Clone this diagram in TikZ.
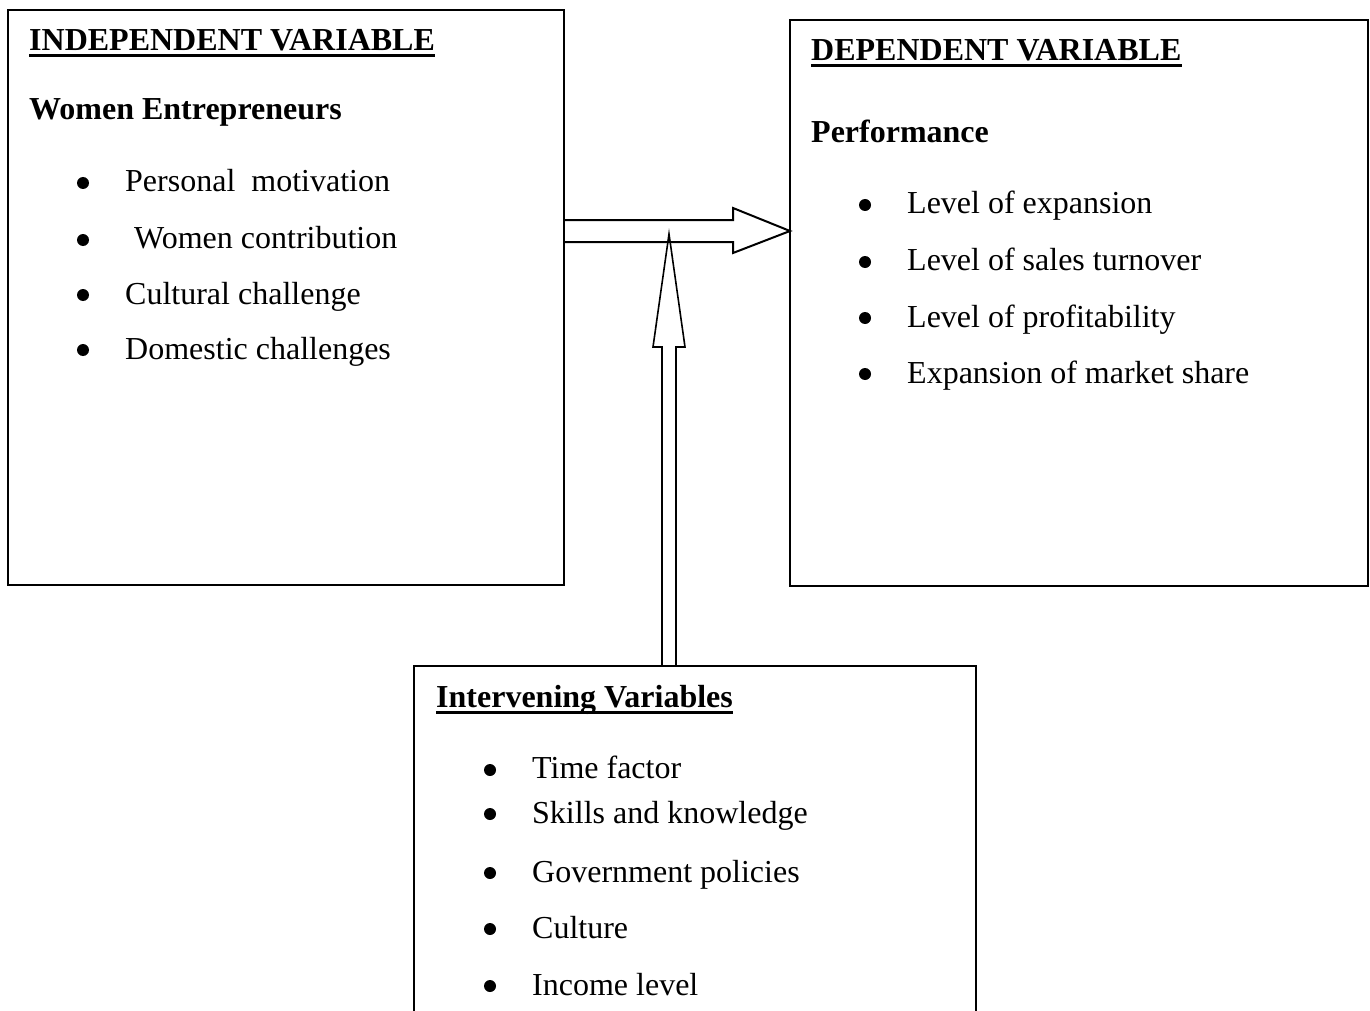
\documentclass[tikz,border=0pt]{standalone}
\usepackage{fontspec}
\setmainfont{Liberation Serif}
\begin{document}
\begin{tikzpicture}[x=1pt,y=-1pt,
  box/.style={draw, line width=2pt, inner sep=0pt, outer sep=0pt, anchor=north west},
  txt/.style={anchor=base west, inner sep=0pt, font=\fontsize{32}{38}\selectfont},
  hdr/.style={anchor=base west, inner sep=0pt, font=\fontsize{32}{38}\selectfont\bfseries},
  bul/.style={circle, fill, inner sep=0pt, minimum size=12pt},
  ul/.style={line width=3pt},
  fat/.style={line width=2pt, line join=miter},
  thin/.style={line width=1.6pt, line join=miter}]
\useasboundingbox (0,0) rectangle (1370,1011);
\clip (0,0) rectangle (1370,1011);

% boxes
\node[box, minimum width=556pt, minimum height=575pt] (L) at (8,10) {};
\node[box, minimum width=578pt, minimum height=566pt] (R) at (790,20) {};
\node[box, line width=1.8pt, minimum width=562pt, minimum height=380pt] (B) at (414,666) {};

% left box text
\node[hdr] (lh) at (29,51) {INDEPENDENT VARIABLE};
\draw[ul] ([yshift=-5pt]lh.base west) -- ([yshift=-5pt]lh.base east);
\node[hdr] (lw) at (29,120) {Women Entrepreneurs};
\node[bul] (lb1) at (83,183) {};
\node[txt] (l1) at (125,192) {Personal~~motivation};
\node[bul] (lb2) at (83,240) {};
\node[txt] (l2) at (134,248) {Women contribution};
\node[bul] (lb3) at (83,295) {};
\node[txt] (l3) at (125,304) {Cultural challenge};
\node[bul] (lb4) at (83,350) {};
\node[txt] (l4) at (125,359) {Domestic challenges};

% right box text
\node[hdr] (rh) at (811,61) {DEPENDENT VARIABLE};
\draw[ul] ([yshift=-5pt]rh.base west) -- ([yshift=-5pt]rh.base east);
\node[hdr] (rp) at (811,143) {Performance};
\node[bul] (rb1) at (865,205) {};
\node[txt] (r1) at (907,213) {Level of expansion};
\node[bul] (rb2) at (865,262) {};
\node[txt] (r2) at (907,270) {Level of sales turnover};
\node[bul] (rb3) at (865,318) {};
\node[txt] (r3) at (907,327) {Level of profitability};
\node[bul] (rb4) at (865,374) {};
\node[txt] (r4) at (907,383) {Expansion of market share};

% bottom box text
\node[hdr] (bh) at (436,707) {Intervening Variables};
\draw[ul] ([yshift=-5pt]bh.base west) -- ([yshift=-5pt]bh.base east);
\node[bul] (bb1) at (490,770) {};
\node[txt] (b1) at (532,778) {Time factor};
\node[bul] (bb2) at (490,814) {};
\node[txt] (b2) at (532,823) {Skills and knowledge};
\node[bul] (bb3) at (490,873) {};
\node[txt] (b3) at (532,882) {Government policies};
\node[bul] (bb4) at (490,929) {};
\node[txt] (b4) at (532,938) {Culture};
\node[bul] (bb5) at (490,986) {};
\node[txt] (b5) at (532,995) {Income level};

% horizontal block arrow from L to R
\coordinate (ha) at (L.east |- 0,231);
\coordinate (hb) at (R.west |- 0,231);
\draw[fat] ([yshift=11pt]ha) -- ([xshift=-57pt,yshift=11pt]hb)
  -- ([xshift=-57pt,yshift=23pt]hb) -- (hb)
  -- ([xshift=-57pt,yshift=-22pt]hb) -- ([xshift=-57pt,yshift=-11pt]hb)
  -- ([yshift=-11pt]ha);

% vertical block arrow from B up to the horizontal arrow
\coordinate (vb) at (B.north west -| 669,0);
\coordinate (vh) at (669,347);
\coordinate (vt) at (669,234);
\draw[thin] ([xshift=-7pt]vb) -- ([xshift=-7pt]vh) -- ([xshift=-16pt]vh)
  -- (vt) -- ([xshift=16pt]vh) -- ([xshift=7pt]vh) -- ([xshift=7pt]vb);
\end{tikzpicture}
\end{document}
